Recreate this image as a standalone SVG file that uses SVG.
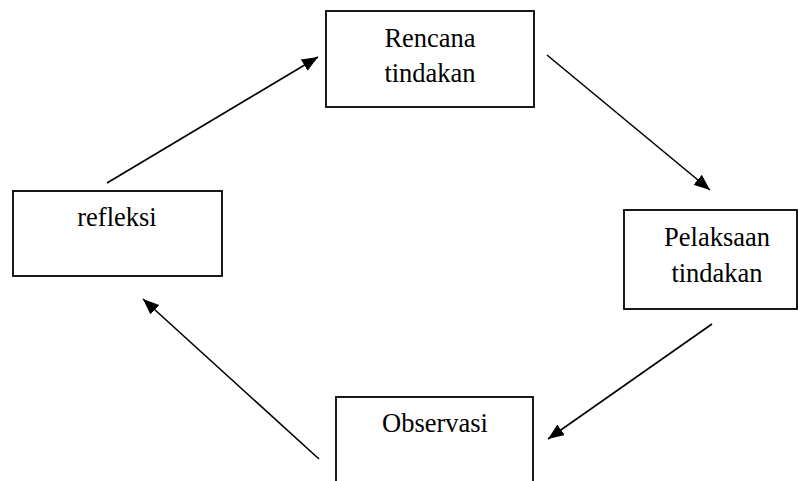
<svg xmlns="http://www.w3.org/2000/svg" width="798" height="481" viewBox="0 0 798 481">
<style>
.box{fill:#fff;stroke:#000;stroke-width:1.8}
.lbl{font-family:"Liberation Serif","Times New Roman",serif;font-size:26.5px;fill:#000;text-anchor:middle}
.conn{stroke:#000;stroke-width:1.6;fill:none;marker-end:url(#ah)}
</style>
<defs>
<marker id="ah" markerUnits="userSpaceOnUse" markerWidth="17" markerHeight="14" refX="16" refY="6.5" orient="auto">
<path d="M0,0 L16,6.5 L0,13 z" fill="#000"/>
</marker>
</defs>
<rect width="798" height="481" fill="#fff"/>
<g id="rencana">
<rect class="box" x="326" y="11" width="208" height="96"/>
<text class="lbl" x="430" y="47">Rencana</text>
<text class="lbl" x="430" y="82">tindakan</text>
</g>
<g id="pelaksaan">
<rect class="box" x="624" y="210" width="173" height="99"/>
<text class="lbl" x="717" y="246">Pelaksaan</text>
<text class="lbl" x="717" y="282">tindakan</text>
</g>
<g id="observasi">
<rect class="box" x="336" y="397" width="197" height="100"/>
<text class="lbl" x="435" y="432">Observasi</text>
</g>
<g id="refleksi">
<rect class="box" x="13" y="191" width="209" height="85"/>
<text class="lbl" x="117" y="226">refleksi</text>
</g>
<g id="connectors">
<line class="conn" x1="107" y1="183" x2="318" y2="57"/>
<line class="conn" x1="547" y1="55" x2="710" y2="190"/>
<line class="conn" x1="712" y1="324" x2="548" y2="439"/>
<line class="conn" x1="319" y1="459" x2="143" y2="299"/>
</g>
</svg>
